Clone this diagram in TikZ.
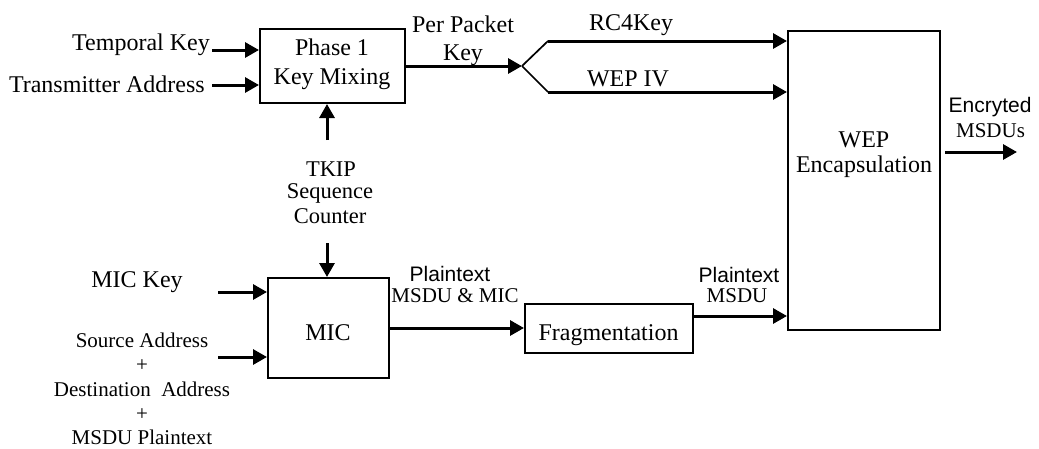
\documentclass[tikz,border=0pt]{standalone}
\usepackage{fontspec}
\setmainfont{Liberation Serif}
\newfontfamily\sansf{Liberation Sans}
\usetikzlibrary{arrows.meta}
\begin{document}
\begin{tikzpicture}[x=1pt,y=-1pt,
  box/.style={draw,line width=2pt,inner sep=0pt},
  lbl/.style={inner sep=0pt,anchor=base,font=\fontsize{24}{27}\selectfont},
  tlbl/.style={inner sep=0pt,anchor=base,font=\fontsize{22.5}{24}\selectfont},
  slbl/.style={inner sep=0pt,anchor=base,font=\fontsize{21}{24}\selectfont},
  sans/.style={inner sep=0pt,anchor=base,font=\sansf\fontsize{21}{24}\selectfont},
  arr/.style={line width=3pt,-{Triangle[length=14pt,width=15pt]}},
  thinline/.style={line width=1.7pt}]
\useasboundingbox (0,0) rectangle (1039,448);

% boxes
\node[box,minimum width=145pt,minimum height=74pt] (ph1) at (332.5,66) {};
\node[box,minimum width=152pt,minimum height=299pt] (wep) at (864,180.5) {};
\node[box,minimum width=121pt,minimum height=100pt] (mic) at (328.5,328) {};
\node[box,minimum width=168pt,minimum height=49pt] (frag) at (609,328) {};

% box texts
\node[lbl] (ph1a) at (332,55) {Phase 1};
\node[lbl] (ph1b) at (332,84) {Key Mixing};
\node[lbl] (wepa) at (864,147) {WEP};
\node[lbl] (wepb) at (864,172) {Encapsulation};
\node[lbl] (mict) at (328,340) {MIC};
\node[lbl] (fragt) at (608.5,340) {Fragmentation};

% inputs to phase 1
\node[lbl,anchor=base east] (tk) at (210,50) {Temporal Key};
\node[lbl,anchor=base east] (ta) at (205,92) {Transmitter Address};
\coordinate (tks) at (212,50);
\coordinate (tas) at (212,85);
\draw[arr] (tks) -- (tks -| ph1.west);
\draw[arr] (tas) -- (tas -| ph1.west);

% TKIP sequence counter
\node[tlbl] (tkip1) at (331,176) {TKIP};
\node[tlbl] (tkip2) at (330,198) {Sequence};
\node[tlbl] (tkip3) at (330,223) {Counter};
\coordinate (tkipu) at (327,140);
\coordinate (tkipd) at (327,243);
\draw[arr] (tkipu) -- (tkipu |- ph1.south);
\draw[arr] (tkipd) -- (tkipd |- mic.north);

% per packet key and fork
\node[lbl] (ppk1) at (463,32) {Per Packet};
\node[lbl] (ppk2) at (463,60) {Key};
\coordinate (fork) at (522,66);
\coordinate (up) at (548,41);
\coordinate (dn) at (548,92);
\draw[arr] (ph1.east) -- (fork);
\draw[thinline] (fork) -- (up);
\draw[thinline] (fork) -- (dn);
\draw[arr] (up) -- (up -| wep.west);
\draw[arr] (dn) -- (dn -| wep.west);
\node[lbl] (rc4) at (631,30) {RC4Key};
\node[lbl] (wepiv) at (628,86) {WEP IV};

% output
\coordinate (outs) at (945,152);
\coordinate (oute) at (1017,152);
\draw[arr] (outs) -- (oute);
\node[sans] (enc1) at (990,112) {Encryted};
\node[slbl] (enc2) at (990.5,137) {MSDUs};

% MIC inputs
\node[lbl] (mk) at (137,287) {MIC Key};
\coordinate (mks) at (218,292);
\coordinate (sas) at (218,357);
\draw[arr] (mks) -- (mks -| mic.west);
\draw[arr] (sas) -- (sas -| mic.west);
\node[slbl] (sa1) at (142,347) {Source Address};
\node[slbl] (sa2) at (142,371) {+};
\node[slbl] (sa3) at (142,396) {Destination~ Address};
\node[slbl] (sa4) at (142,420) {+};
\node[slbl] (sa5) at (142,444) {MSDU Plaintext};

% MIC -> fragmentation -> WEP
\draw[arr] (mic.east) -- (frag.west);
\node[sans] (pt1) at (450,281) {Plaintext};
\node[slbl] (pt2) at (455,302) {MSDU \& MIC};
\coordinate (fin) at (693,316);
\draw[arr] (fin -| frag.east) -- (fin -| wep.west);
\node[sans] (pm1) at (739,282) {Plaintext};
\node[slbl] (pm2) at (737,302) {MSDU};
\end{tikzpicture}
\end{document}
